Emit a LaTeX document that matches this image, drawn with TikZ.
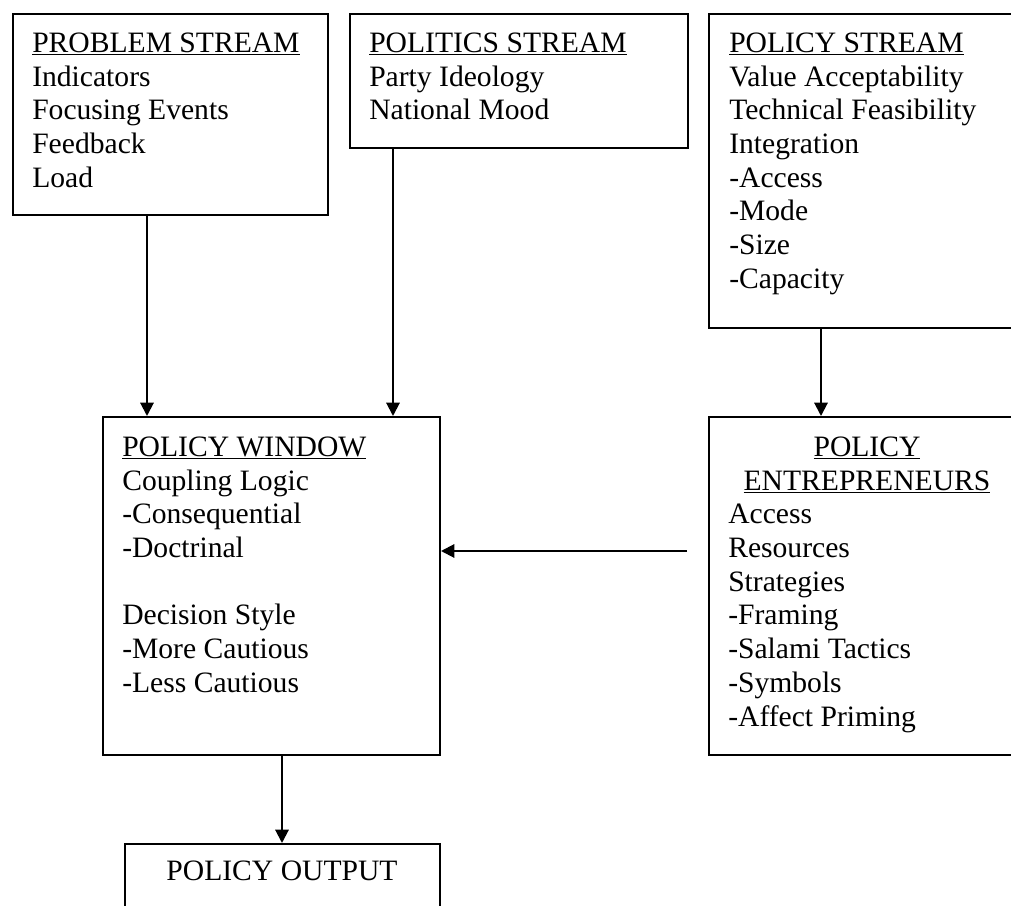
\documentclass[tikz,border=0pt]{standalone}
\usepackage{fontspec}
\setmainfont{Liberation Serif}
\usetikzlibrary{arrows.meta}

\tikzset{
  box/.style={draw, line width=1.5pt, inner sep=0pt, anchor=north west},
  txt/.style={anchor=north west, inner sep=0pt, align=left, font=\fontsize{22.2pt}{25.3pt}\selectfont},
  flow/.style={line width=1.5pt, -{Triangle[length=10pt,width=10pt]}}
}

\begin{document}
\begin{tikzpicture}[x=0.75pt,y=0.75pt,yscale=-1,xscale=1]
        \useasboundingbox (0,0) rectangle (1011,906);
        \clip (0,0) rectangle (1011,906);

        % Boxes
        \node [box, minimum width=236.25pt, minimum height=150.75pt] (prob) at (12,13) {};
        \node [box, minimum width=253.5pt, minimum height=100.5pt] (pol) at (349,13) {};
        \node [box, minimum width=247.5pt, minimum height=235.5pt] (pstr) at (708,13) {};
        \node [box, minimum width=252.75pt, minimum height=253.5pt] (win) at (102,416) {};
        \node [box, minimum width=247.5pt, minimum height=253.5pt] (ent) at (708,416) {};
        \node [box, minimum width=236.25pt, minimum height=75pt] (out) at (124,843) {};

        % Text Node
        \node [txt] (probtxt) at (32,28.4) {\strut\underline{PROBLEM STREAM}\\Indicators\\Focusing Events\\Feedback\\Load};
        % Text Node
        \node [txt] (poltxt) at (369,28.4) {\strut\underline{POLITICS STREAM}\\Party Ideology\\National Mood};
        % Text Node
        \node [txt] (pstrtxt) at (729,28.4) {\strut\underline{POLICY STREAM}\\Value Acceptability\\Technical Feasibility\\Integration\\-Access\\-Mode\\-Size\\-Capacity};
        % Text Node
        \node [txt] (wintxt) at (122,432.4) {\strut\underline{POLICY WINDOW}\\Coupling Logic\\-Consequential\\-Doctrinal\\[25.3pt]Decision Style\\-More Cautious\\-Less Cautious};
        % Text Node
        \node [txt, anchor=north, align=center] (enttitle) at (867,432.4) {\strut\underline{POLICY}\\\underline{ENTREPRENEURS}};
        % Text Node
        \node [txt] (enttxt) at (728,499.8) {\strut Access\\Resources\\Strategies\\-Framing\\-Salami Tactics\\-Symbols\\-Affect Priming};
        % Text Node
        \node [txt, anchor=base] (outtxt) at (282,880) {POLICY OUTPUT};

        % Arrows
        \draw [flow] (147,0 |- prob.south) -- (147,0 |- win.north);
        \draw [flow] (393,0 |- pol.south) -- (393,0 |- win.north);
        \draw [flow] (821,0 |- pstr.south) -- (821,0 |- ent.north);
        \coordinate (enttail) at (687,551);
        \draw [flow] (enttail) -- (win.east |- enttail);
        \draw [flow] (282,0 |- win.south) -- (282,0 |- out.north);

\end{tikzpicture}
\end{document}
